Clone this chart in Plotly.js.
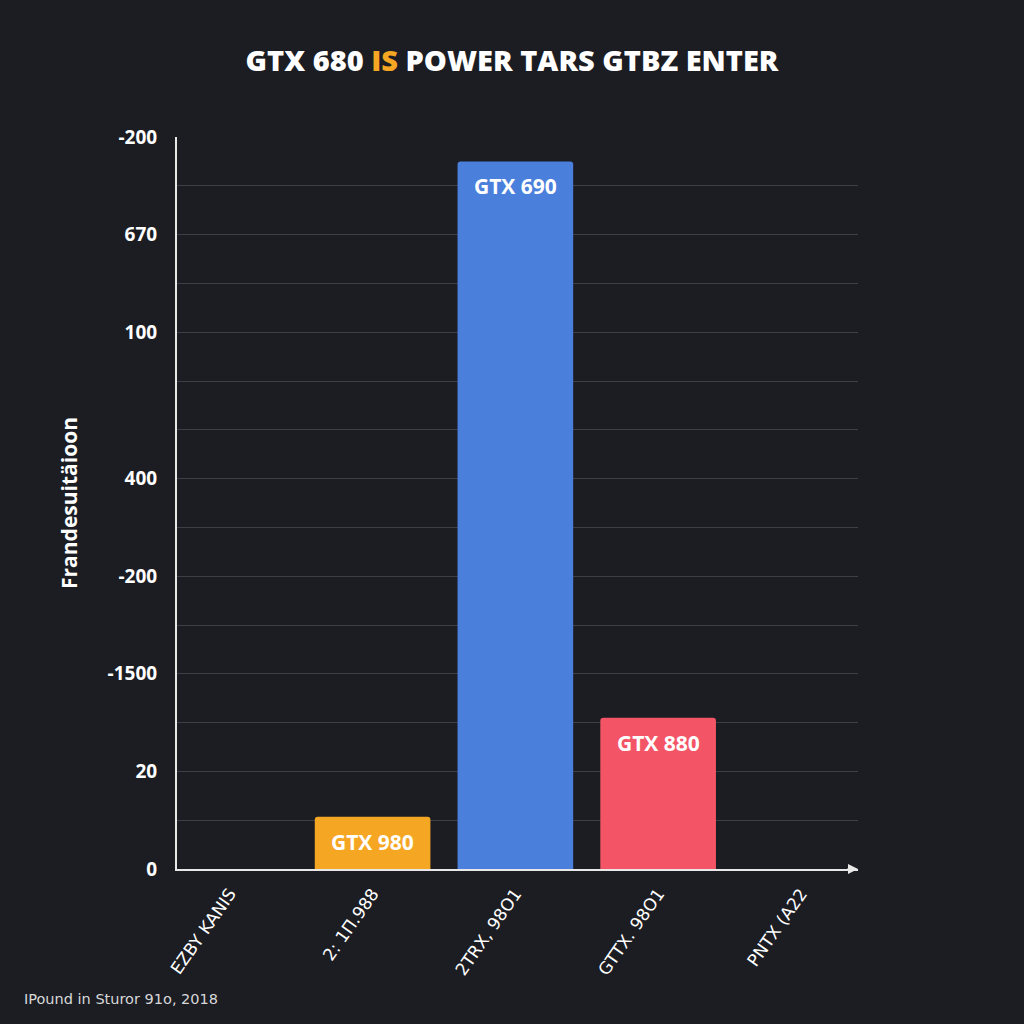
<!DOCTYPE html>
<html>
<head>
<meta charset="utf-8">
<script src="https://cdn.plot.ly/plotly-3.0.1.min.js"></script>
<style>
html,body{margin:0;padding:0;background:#1b1d23;}
#chart{width:1024px;height:1024px;}
</style>
</head>
<body>
<div id="chart"></div>
<script>
// Data
const categories = ["EZBY KANIS", "2: 1Π.988", "2TRX, 98O1", "GTTX. 98O1", "PNTX (A22"];
const barValues = [null, 1.07, 14.5, 3.1, null];
const barLabels = ["", "GTX 980", "GTX 690", "GTX 880", ""];
const barColors = ["#f5a623", "#f5a623", "#4a7fdc", "#f45566", "#f45566"];
const yTickVals = [0,1,2,3,4,5,6,7,8,9,10,11,12,13,14,15];
const yTickText = ["0","","20","","-1500","","-200","","400","","","100","","670","","-200"];

const bg = "#1b1d23";
const xs = [0,1,2,3,4];
const trace = {
  type: "bar",
  x: xs,
  y: barValues,
  textposition: "none",
  marker: {color: barColors, line: {width: 0}, cornerradius: 3},
  width: 0.81,
  hoverinfo: "none"
};

const labelAnns = [];
xs.forEach(function(i){
  if (barValues[i] !== null && barLabels[i]) {
    labelAnns.push({
      x: i, y: barValues[i], xref: "x", yref: "y",
      yanchor: "middle", yshift: -25, showarrow: false,
      text: barLabels[i],
      font: {family: "Open Sans, DejaVu Sans, sans-serif", size: 21, color: "#ffffff", weight: 700}
    });
  }
});

const layout = {
  width: 1024, height: 1024,
  paper_bgcolor: bg, plot_bgcolor: bg,
  margin: {l: 177, r: 166, t: 137, b: 155},
  showlegend: false,
  title: {
    text: "GTX 680 <span style='color:#f5a623'>IS</span> POWER TARS GTBZ ENTER",
    x: 0.5, xanchor: "center", y: 0.941, yanchor: "middle",
    font: {family: "Open Sans, DejaVu Sans, sans-serif", size: 29, color: "#ffffff", weight: 800}
  },
  xaxis: {
    range: [-0.37, 4.4],
    tickvals: xs,
    ticktext: categories,
    tickangle: -55,
    tickfont: {family: "DejaVu Sans, sans-serif", size: 17, color: "#ffffff"},
    showgrid: false,
    zeroline: false,
    showline: true, linecolor: "#e8e8e8", linewidth: 2,
    ticks: "", ticklabelstandoff: 6,
    fixedrange: true
  },
  yaxis: {
    range: [0, 15],
    tickvals: yTickVals,
    ticktext: yTickText,
    tickfont: {family: "Open Sans, DejaVu Sans, sans-serif", size: 19, color: "#ffffff", weight: 700},
    showgrid: true, gridcolor: "#3c3f47", gridwidth: 1,
    zeroline: false,
    showline: true, linecolor: "#e8e8e8", linewidth: 2,
    ticks: "", ticklabelstandoff: 14,
    title: {
      text: "Frandesuitäioon",
      standoff: 24,
      font: {family: "Open Sans, DejaVu Sans, sans-serif", size: 21, color: "#ffffff", weight: 700}
    },
    fixedrange: true
  },
  annotations: labelAnns.concat([
    {
      xref: "paper", yref: "paper", x: 1.0, y: 0,
      ax: -12, ay: 0, showarrow: true, arrowhead: 2, arrowsize: 1, arrowwidth: 2,
      arrowcolor: "#e8e8e8", text: ""
    },
    {
      xref: "paper", yref: "paper", x: -0.2276, y: -0.178,
      xanchor: "left", yanchor: "middle", showarrow: false,
      text: "IPound in Sturor 91o, 2018",
      font: {family: "DejaVu Sans, sans-serif", size: 14.5, color: "#d8d8d8"}
    }
  ])
};

Plotly.newPlot("chart", [trace], layout, {displayModeBar: false, staticPlot: true});
</script>
</body>
</html>
